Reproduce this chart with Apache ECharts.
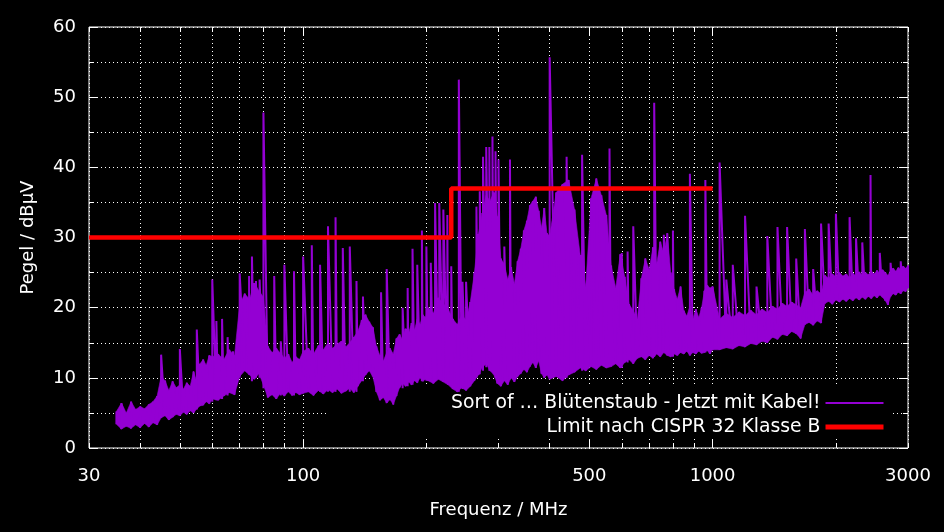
<!DOCTYPE html>
<html>
<head>
<meta charset="utf-8">
<script src="https://cdn.jsdelivr.net/npm/echarts@6/dist/echarts.min.js"></script>
<style>
  html, body { margin: 0; background: #000; }
  #chart { width: 944px; height: 532px; }
</style>
</head>
<body>
<div id="chart"></div>
<script>
// Messkurve: dichtes Band (unterer / oberer Rand) je Stuetzfrequenz in MHz
var bandFreq = [
  35, 36, 37, 38, 39, 40, 41, 42, 43, 44, 45, 46, 47, 48, 49, 50, 51, 52, 53, 54, 55, 56, 57, 58, 59, 60,
  62, 64, 66, 68, 70, 72, 74, 76, 78, 80, 82, 84, 86, 88, 90, 92, 94, 96, 98, 100,
  103, 106, 109, 112, 115, 118, 121, 124, 127, 130, 133, 136, 139, 142, 145, 148, 151, 154, 157, 160,
  163, 166, 169, 172, 175, 178, 181, 184, 187, 190, 193, 196, 199,
  202, 208, 214, 220, 226, 232, 238, 244, 250, 256, 262, 268, 274, 280, 286, 292, 298, 304, 310, 316,
  322, 328, 334, 340, 346, 352, 358, 364, 370, 376, 382, 388, 394, 400,
  415, 430, 445, 460, 475, 490, 505, 520, 535, 550, 565, 580, 595, 610, 625, 640, 655, 670, 685, 700,
  715, 730, 745, 760, 775, 790, 805, 820, 835, 850, 865, 880, 895, 910, 925, 940, 955, 970, 985, 1000,
  1040, 1080, 1120, 1160, 1200, 1240, 1280, 1320, 1360, 1400, 1440, 1480, 1520, 1560, 1600, 1640, 1680,
  1720, 1760, 1800, 1840, 1880, 1920, 1960, 2000, 2040, 2080, 2120, 2160, 2200, 2240, 2280, 2320, 2360,
  2400, 2440, 2480, 2520, 2560, 2600, 2640, 2680, 2720, 2760, 2800, 2840, 2880, 2920, 2960, 3000
];
var bandLow = [
  3.4, 2.7, 3.1, 2.8, 3.3, 2.9, 3.5, 3.0, 3.6, 3.3, 4.3, 4.6, 4.0, 4.4, 4.8, 4.6, 5.1, 4.8, 5.3, 5.0, 5.6, 6.0, 6.1, 6.6, 6.3, 7.0,
  6.8, 7.4, 7.9, 7.6, 10.2, 11.0, 10.4, 9.8, 10.6, 9.0, 7.2, 7.6, 7.0, 7.8, 7.4, 8.0, 7.5, 7.9, 7.6, 7.8,
  8.0, 7.5, 8.2, 7.7, 8.3, 7.9, 8.4, 7.8, 8.1, 8.5, 7.9, 8.8, 9.6, 10.4, 11.0, 10.2, 8.0, 6.8, 7.2, 6.4,
  6.9, 6.2, 7.4, 8.6, 9.2, 8.8, 9.4, 9.0, 9.6, 9.3, 10.0, 9.5, 9.8,
  9.6, 9.2, 9.8, 9.4, 9.0, 8.4, 8.0, 8.6, 8.2, 8.8, 9.6, 10.4, 11.5, 12.0, 11.0, 10.5, 9.2, 8.8, 9.6, 9.0,
  10.0, 9.4, 10.2, 10.6, 11.2, 10.8, 11.6, 12.2, 11.4, 12.4, 10.6, 10.0, 10.4, 9.8,
  10.2, 9.6, 10.4, 10.8, 11.4, 11.0, 11.6, 11.2, 11.8, 11.4, 11.6, 12.0, 11.4, 12.2, 12.6, 12.0, 12.8, 13.0, 12.6, 13.2,
  12.8, 13.4, 13.0, 13.6, 13.2, 13.0, 13.4, 13.2, 13.6, 13.4, 13.8, 13.2, 13.6, 13.4, 13.8, 13.5, 13.6, 13.9, 13.4, 14.0,
  14.0, 14.3, 14.1, 14.6, 14.4, 14.9, 14.7, 15.2, 15.0, 15.8, 15.5, 16.2, 16.0, 16.6, 16.3, 15.6, 17.6,
  17.9, 17.5, 18.1, 17.8, 20.6, 20.9, 20.5, 21.1, 20.8, 21.2, 20.9, 21.3, 21.0, 21.4, 21.1, 21.5, 21.2,
  21.6, 21.3, 21.7, 21.4, 21.8, 21.5, 21.0, 20.4, 21.6, 22.0, 21.8, 22.2, 22.0, 22.4, 22.3, 22.8
];
var bandHigh = [
  5.2, 6.4, 5.0, 6.6, 5.5, 5.9, 5.6, 6.2, 6.6, 7.4, 10.2, 9.6, 8.2, 9.5, 8.6, 9.0, 8.4, 9.3, 8.8, 10.9, 9.4, 12.0, 12.6, 11.8, 13.2, 13.0,
  13.4, 12.6, 14.0, 13.2, 20.5, 22.0, 21.2, 23.5, 22.4, 21.5, 14.5, 13.6, 14.2, 13.5, 12.8, 13.4, 12.2, 13.0, 12.6, 13.8,
  14.2, 13.4, 14.6, 14.0, 15.0, 14.2, 14.8, 15.2, 14.4, 15.0, 15.8, 16.6, 18.2, 19.0, 18.0, 17.2, 14.5, 13.2, 12.4, 13.6,
  14.2, 13.4, 15.6, 16.2, 15.4, 17.0, 16.4, 17.8, 16.8, 18.4, 17.6, 19.0, 18.6,
  20.0, 19.2, 21.4, 20.6, 19.8, 18.4, 17.6, 19.0, 18.2, 20.8, 25.0, 30.5, 33.5, 36.0, 35.2, 36.4, 33.0, 27.0, 26.2, 24.0,
  25.8, 23.4, 26.6, 28.4, 31.0, 32.4, 34.6, 35.2, 35.8, 33.8, 31.4, 34.2, 30.6, 30.2,
  36.4, 37.6, 38.2, 34.0, 27.5, 23.0, 35.6, 38.4, 36.0, 33.2, 26.0, 22.8, 27.6, 24.4, 20.5, 19.6, 18.4, 24.2, 27.0, 25.4,
  28.6, 26.2, 29.4, 27.8, 30.6, 25.0, 22.6, 21.2, 23.0, 19.6, 18.8, 20.2, 18.4, 19.8, 18.6, 20.0, 22.4, 23.2, 22.8, 23.0,
  18.4, 19.2, 18.6, 19.4, 18.9, 19.6, 19.0, 19.8, 19.3, 20.2, 19.8, 20.6, 20.2, 20.8, 20.4, 20.0, 22.2,
  22.6, 21.8, 22.4, 22.0, 24.6, 24.2, 24.8, 24.4, 25.0, 24.5, 24.8, 24.3, 24.9, 24.5, 25.1, 24.6, 25.0,
  24.7, 25.2, 24.8, 25.3, 24.9, 25.4, 25.0, 24.6, 25.3, 25.6, 25.2, 25.7, 25.4, 25.9, 25.6, 26.0
];

// Einzelne Stoerspitzen (Frequenz, Fusspunkt, Spitze)
var spikeFreq = [
  45, 50, 55, 60, 61.4, 63.4, 65.4, 67.4, 70, 73.8, 75, 76.7, 78.3, 80, 85, 88.2, 90, 95, 100, 105,
  110, 115, 120, 125, 130, 135, 140, 155, 160, 175, 180, 185, 190, 195, 200, 205, 210, 215, 220, 225,
  230, 240, 245, 250, 265, 270, 275, 280, 285, 290, 295, 300, 310, 320, 400, 440, 480, 560, 600, 620,
  640, 720, 760, 800, 880, 960, 1040, 1080, 1120, 1200, 1280, 1360, 1440, 1520, 1600, 1680, 1760, 1840,
  1920, 2000, 2160, 2240, 2320, 2430, 2560, 2720, 2880
];
var spikeBase = [
  4.5, 4.8, 5.5, 6.6, 6.8, 7.0, 7.5, 7.8, 10.0, 10.5, 9.5, 10.0, 10.0, 8.5, 7.5, 7.5, 7.5, 7.5, 7.8, 7.8,
  8.0, 8.0, 8.0, 8.0, 8.0, 8.0, 9.5, 7.0, 6.8, 8.5, 8.8, 9.0, 9.3, 9.5, 9.6, 9.6, 9.8, 9.8, 9.4, 9.2,
  9.0, 8.0, 8.4, 8.2, 10.0, 10.5, 11.0, 11.5, 11.0, 11.0, 10.0, 9.2, 9.6, 9.8, 9.8, 10.0, 11.0, 11.6, 11.4, 12.2,
  12.0, 13.0, 13.6, 13.0, 13.2, 13.6, 14.0, 14.3, 14.1, 14.4, 14.7, 15.0, 15.5, 16.0, 16.3, 17.6, 17.5, 17.8,
  20.9, 21.1, 21.3, 21.4, 21.5, 21.6, 21.8, 21.6, 22.0
];
var spikePeak = [
  13.3, 14.1, 16.9, 24.0, 18.1, 18.4, 15.8, 13.8, 24.9, 24.5, 27.3, 23.8, 24.0, 47.8, 24.5, 15.2, 26.1, 25.2, 27.3, 28.9,
  26.1, 31.6, 32.9, 28.5, 28.7, 23.8, 21.6, 22.2, 25.5, 20.0, 22.8, 28.4, 26.1, 31.0, 28.7, 26.4, 34.9, 34.9, 34.0, 33.2,
  25.9, 52.5, 23.7, 23.7, 34.4, 36.6, 41.5, 42.9, 42.9, 44.4, 42.3, 41.1, 28.7, 41.1, 55.7, 41.5, 41.8, 42.7, 27.8, 28.0,
  31.6, 49.2, 30.4, 31.0, 39.1, 38.2, 40.7, 24.0, 26.1, 33.1, 23.0, 30.2, 31.5, 31.5, 27.0, 31.2, 25.5, 32.0,
  32.0, 33.4, 32.9, 29.9, 29.3, 38.9, 27.8, 26.4, 26.6
];

// Grenzwert
var limitFreq = [30, 230, 230, 1000];
var limitLevel = [30, 30, 37, 37];

// Achsenteilung
var xGridTicks = [30, 40, 50, 60, 70, 80, 90, 100, 200, 300, 400, 500, 600, 700, 800, 900, 1000, 2000, 3000];
var xMajorTicks = [100, 500, 1000];
var xLabels = [30, 100, 500, 1000, 3000];

var entries = [];
bandFreq.forEach(function (f, i) { entries.push([f, bandLow[i], bandHigh[i]]); });
spikeFreq.forEach(function (f, i) { entries.push([f, spikeBase[i], spikePeak[i]]); });
entries.sort(function (a, b) { return a[0] - b[0]; });
var measData = [];
entries.forEach(function (e) {
  measData.push([e[0], e[1]]);
  measData.push([e[0], e[2]]);
});
// Band als Flaeche: je Abschnitt zwischen zwei Stuetzfrequenzen ein Viereck
var bandCells = [];
for (var i = 0; i < bandFreq.length - 1; i++) {
  bandCells.push([bandFreq[i], bandLow[i], bandHigh[i], bandFreq[i + 1], bandLow[i + 1], bandHigh[i + 1]]);
}
var limitData = limitFreq.map(function (f, i) { return [f, limitLevel[i]]; });

var purple = '#9400d3';
var white = '#ffffff';
var font = 'DejaVu Sans';
var dotted = { color: white, width: 1, type: [1, 3] };

function xAxisDef(pos, ticks, len, labels, grid) {
  return {
    type: 'log', logBase: 10, min: 30, max: 3000, position: pos,
    axisLine: { show: false },
    axisTick: { show: true, inside: true, length: len, customValues: ticks, lineStyle: { color: white } },
    axisLabel: labels ? {
      show: true, customValues: xLabels, color: white, fontSize: 18, fontFamily: font, margin: 19,
      formatter: function (v) { return String(Math.round(v)); }
    } : { show: false },
    splitLine: grid ? { show: true, lineStyle: dotted } : { show: false }
  };
}

var xMain = xAxisDef('bottom', xGridTicks, 5, true, true);
xMain.name = 'Frequenz / MHz';
xMain.nameLocation = 'middle';
xMain.nameGap = 53;
xMain.nameTextStyle = { color: white, fontSize: 18, fontFamily: font };

var chart = echarts.init(document.getElementById('chart'));
chart.setOption({
  backgroundColor: '#000',
  animation: false,
  textStyle: { fontFamily: font },
  grid: { left: 89, right: 36, top: 27, bottom: 84, show: true, borderColor: white, borderWidth: 1, backgroundColor: 'transparent' },
  legend: {
    orient: 'vertical', align: 'right', right: 51, top: 387,
    itemWidth: 58, itemHeight: 2, itemGap: 4,
    padding: [6, 7, 2, 124],
    backgroundColor: '#000', z: 1, selectedMode: false,
    itemStyle: { opacity: 0 },
    textStyle: { color: white, fontSize: 18.8, fontFamily: font, lineHeight: 20 },
    data: [
      { name: 'Sort of … Blütenstaub - Jetzt mit Kabel!', lineStyle: { width: 2 } },
      { name: 'Limit nach CISPR 32 Klasse B', lineStyle: { width: 5 } }
    ]
  },
  xAxis: [
    xMain,
    xAxisDef('bottom', xMajorTicks, 9, false, false),
    xAxisDef('top', xGridTicks, 5, false, false),
    xAxisDef('top', xMajorTicks, 9, false, false)
  ],
  yAxis: [
    {
      type: 'value', min: 0, max: 60, interval: 10, position: 'left',
      axisLine: { show: false },
      axisTick: { show: true, inside: true, length: 9, lineStyle: { color: white } },
      minorTick: { show: true, splitNumber: 2, length: 5, lineStyle: { color: white } },
      axisLabel: { color: white, fontSize: 18, fontFamily: font, margin: 13 },
      splitLine: { show: true, lineStyle: dotted },
      minorSplitLine: { show: true, lineStyle: dotted },
      name: 'Pegel / dBµV', nameLocation: 'middle', nameGap: 52, nameRotate: 90,
      nameTextStyle: { color: white, fontSize: 18, fontFamily: font }
    },
    {
      type: 'value', min: 0, max: 60, interval: 10, position: 'right',
      axisLine: { show: false },
      axisTick: { show: true, inside: true, length: 9, lineStyle: { color: white } },
      minorTick: { show: true, splitNumber: 2, length: 5, lineStyle: { color: white } },
      axisLabel: { show: false },
      splitLine: { show: false }
    }
  ],
  series: [
    {
      name: 'bandFill', type: 'custom', silent: true, z: 2,
      xAxisIndex: 0, yAxisIndex: 0,
      encode: { x: [0, 3], y: [1, 2, 4, 5] },
      data: bandCells,
      renderItem: function (params, api) {
        var a = api.coord([api.value(0), api.value(1)]);
        var b = api.coord([api.value(3), api.value(4)]);
        var c = api.coord([api.value(3), api.value(5)]);
        var d = api.coord([api.value(0), api.value(2)]);
        return {
          type: 'polygon',
          shape: { points: [a, b, c, d] },
          style: { fill: purple, stroke: purple, lineWidth: 0.6 }
        };
      }
    },
    {
      name: 'Sort of … Blütenstaub - Jetzt mit Kabel!',
      type: 'line', xAxisIndex: 0, yAxisIndex: 0,
      data: measData, symbol: 'none', z: 2,
      lineStyle: { color: purple, width: 2 },
      itemStyle: { color: purple }
    },
    {
      name: 'Limit nach CISPR 32 Klasse B',
      type: 'line', xAxisIndex: 0, yAxisIndex: 0,
      data: limitData, symbol: 'none', z: 3,
      lineStyle: { color: '#ff0000', width: 4.5 },
      itemStyle: { color: '#ff0000' }
    }
  ]
});
</script>
</body>
</html>
